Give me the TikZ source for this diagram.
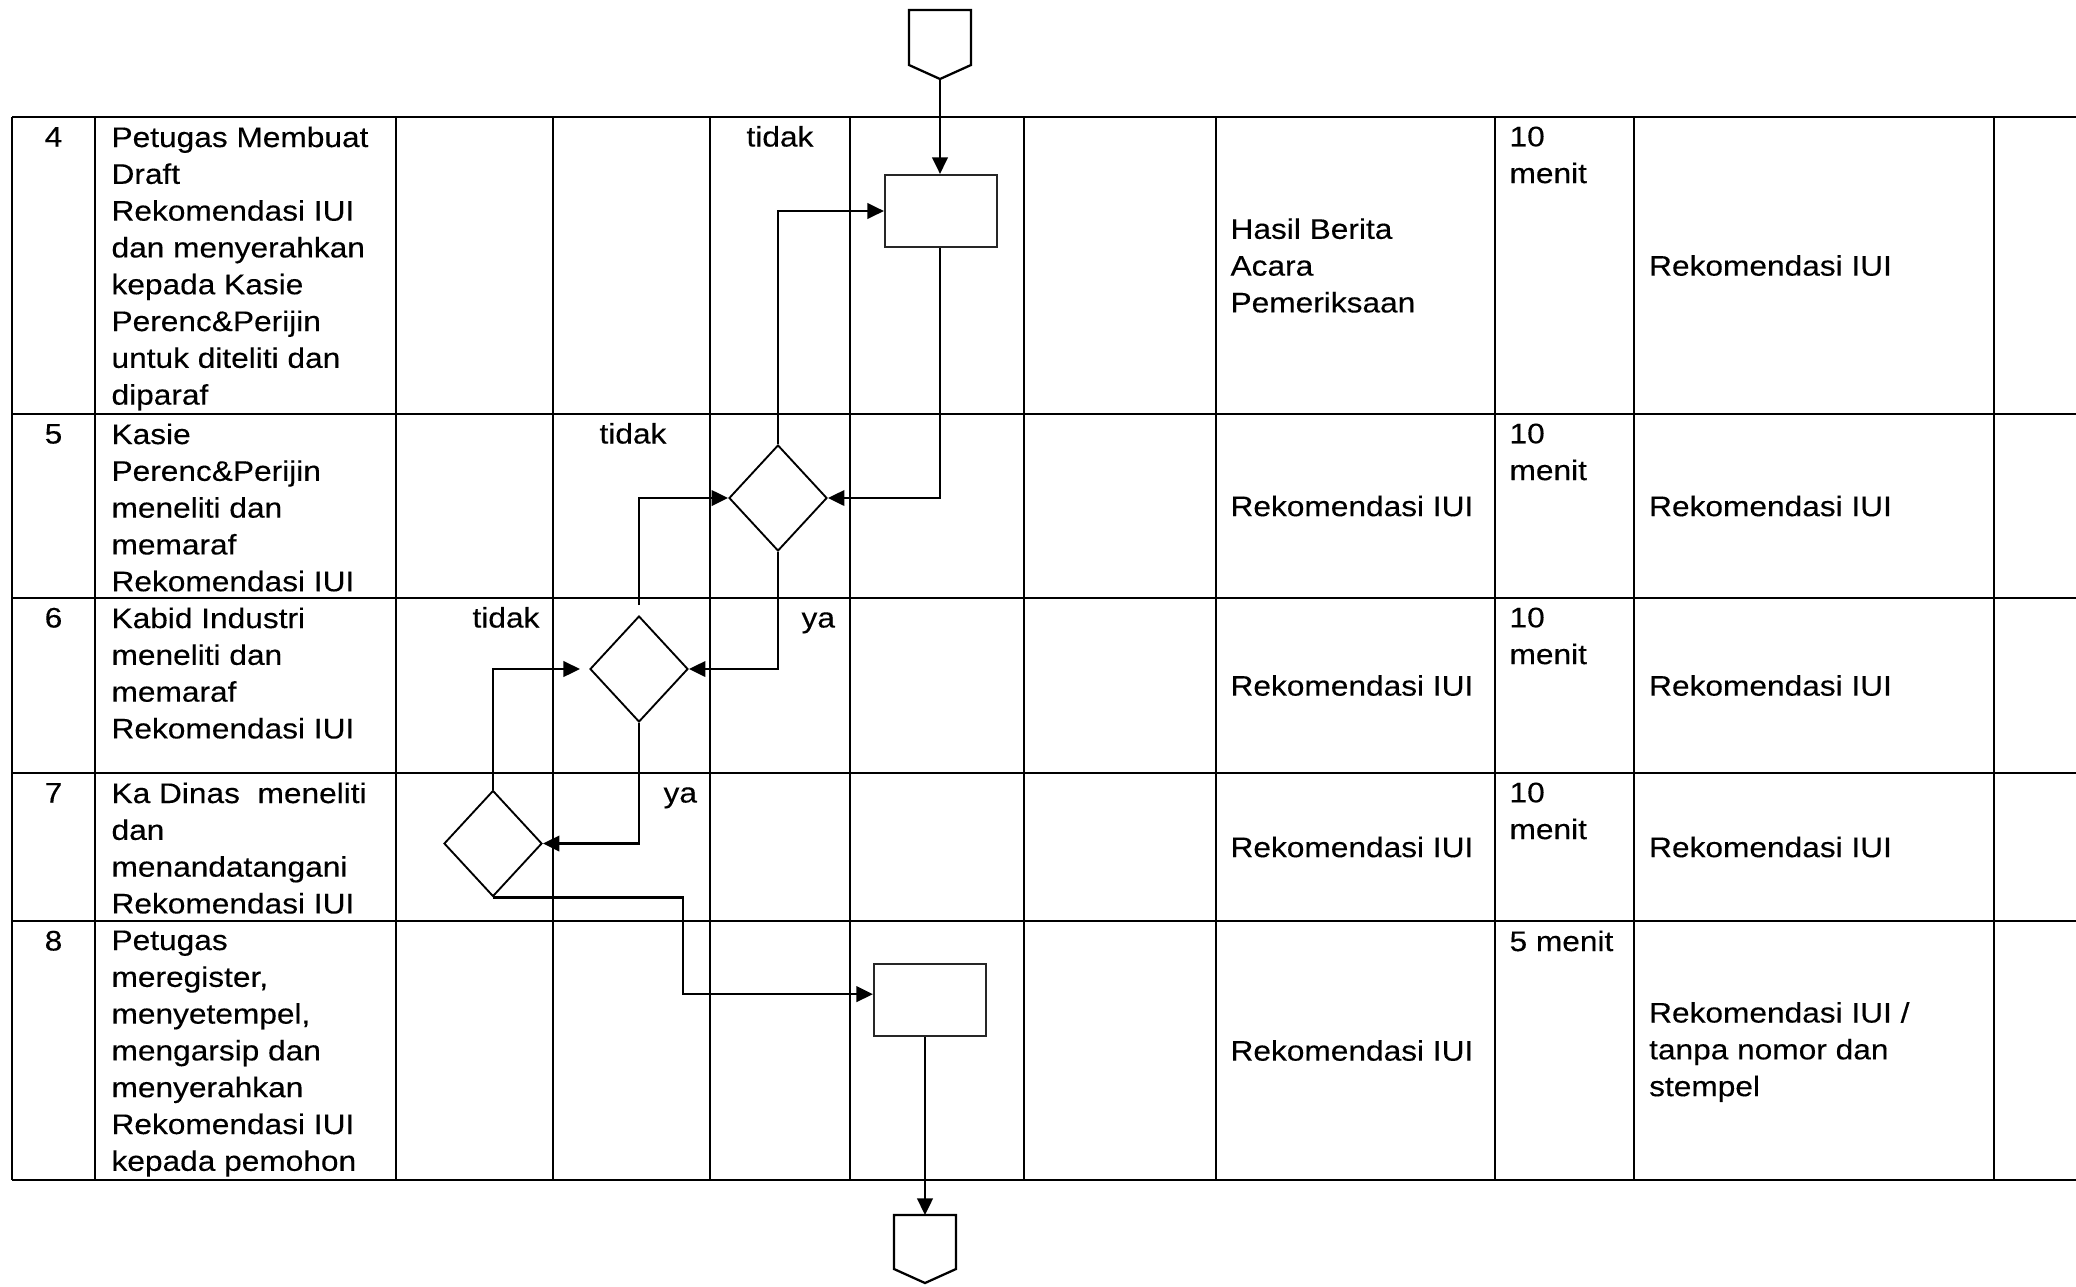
\documentclass[tikz,border=0pt]{standalone}
\usepackage{fontspec}
\setmainfont{Liberation Sans}[FakeStretch=1.12,FakeBold=0.25]
\usepackage{tikz}
\usetikzlibrary{shapes.geometric,arrows.meta}

\tikzset{
  txt/.style={inner sep=0pt, font=\fontsize{10.6}{13.8}\selectfont},
  cell/.style={txt, anchor=north west, align=left},
  mid/.style={txt, anchor=west, align=left},
  lbl/.style={txt, anchor=base west},
  num/.style={txt, anchor=base},
  grid/.style={line width=1.05pt},
  box/.style={draw=black!85, line width=0.8pt, minimum width=42pt, minimum height=27pt, inner sep=0pt},
  decision/.style={draw, diamond, line width=0.7pt, minimum width=36.75pt, minimum height=39.75pt, inner sep=0pt},
  offpage/.style={line width=0.85pt, line join=miter},
  flow/.style={line width=0.95pt, -{Triangle[length=6.2pt,width=5.8pt]}},
}

\begin{document}
\begin{tikzpicture}[x=0.375pt,y=-0.375pt]
\useasboundingbox (0,0) rectangle (2076,1286);

\draw [grid] (12,117)--(2076,117);
\draw [grid] (12,414)--(2076,414);
\draw [grid] (12,598)--(2076,598);
\draw [grid] (12,773)--(2076,773);
\draw [grid] (12,921)--(2076,921);
\draw [grid] (12,1180)--(2076,1180);
\draw [grid] (12,117)--(12,1180);
\draw [grid] (95,117)--(95,1180);
\draw [grid] (396,117)--(396,1180);
\draw [grid] (553,117)--(553,1180);
\draw [grid] (710,117)--(710,1180);
\draw [grid] (850,117)--(850,1180);
\draw [grid] (1024,117)--(1024,1180);
\draw [grid] (1216,117)--(1216,1180);
\draw [grid] (1495,117)--(1495,1180);
\draw [grid] (1634,117)--(1634,1180);
\draw [grid] (1994,117)--(1994,1180);

\node [num] (no4) at (53.5,146.5) {4};
\node [num] (no5) at (53.5,443.5) {5};
\node [num] (no6) at (53.5,627.5) {6};
\node [num] (no7) at (53.5,802.5) {7};
\node [num] (no8) at (53.5,950.5) {8};

\node [cell] (act4) at (111,126) {Petugas Membuat\\Draft\\Rekomendasi IUI\\dan menyerahkan\\kepada Kasie\\Perenc\&Perijin\\untuk diteliti dan\\diparaf};
\node [cell] (act5) at (111,423) {Kasie\\Perenc\&Perijin\\meneliti dan\\memaraf\\Rekomendasi IUI};
\node [cell] (act6) at (111,607) {Kabid Industri\\meneliti dan\\memaraf\\Rekomendasi IUI};
\node [cell] (act7) at (111,782) {Ka Dinas\ \ meneliti\\dan\\menandatangani\\Rekomendasi IUI};
\node [cell] (act8) at (111,930) {Petugas\\meregister,\\menyetempel,\\mengarsip dan\\menyerahkan\\Rekomendasi IUI\\kepada pemohon};

\node [mid] (in4) at (1230,265.5) {Hasil Berita\\Acara\\Pemeriksaan};
\node [mid] (in5) at (1230,506) {Rekomendasi IUI};
\node [mid] (in6) at (1230,685.5) {Rekomendasi IUI};
\node [mid] (in7) at (1230,847) {Rekomendasi IUI};
\node [mid] (in8) at (1230,1050.5) {Rekomendasi IUI};

\node [cell] (time4) at (1509,126) {10\\menit};
\node [cell] (time5) at (1509,423) {10\\menit};
\node [cell] (time6) at (1509,607) {10\\menit};
\node [cell] (time7) at (1509,782) {10\\menit};
\node [cell] (time8) at (1509,930) {5 menit};

\node [mid] (out4) at (1648.6,265.5) {Rekomendasi IUI};
\node [mid] (out5) at (1648.6,506) {Rekomendasi IUI};
\node [mid] (out6) at (1648.6,685.5) {Rekomendasi IUI};
\node [mid] (out7) at (1648.6,847) {Rekomendasi IUI};
\node [mid] (out8) at (1648.6,1052) {Rekomendasi IUI /\\tanpa nomor dan\\stempel};

\node [lbl] (no1) at (746,146.5) {tidak};
\node [lbl] (no2) at (599,443.5) {tidak};
\node [lbl] (no3) at (472,627.5) {tidak};
\node [lbl] (yes2) at (801,627.5) {ya};
\node [lbl] (yes3) at (663,802.5) {ya};

\draw [offpage] (909,10)--(971,10)--(971,65)--(940,79)--(909,65)--cycle;
\coordinate (start) at (940,79);
\draw [offpage] (894,1215)--(956,1215)--(956,1269)--(925,1283)--(894,1269)--cycle;
\coordinate (finish) at (925,1215);

\node [box] (draft) at (941,211) {};
\node [decision] (kasie) at (778,498) {};
\node [decision] (kabid) at (639,669) {};
\node [decision] (kadin) at (493,843.5) {};
\node [box] (arsip) at (930,1000) {};
\coordinate (jog) at (683,950);

\draw [flow] (start)--(start |- draft.north);
\draw [flow] (draft.south -| start) |- (kasie.east);
\draw [flow] (kasie.north) |- (draft.west);
\draw [flow] (kasie.south) |- (kabid.east);
\draw [flow, shorten <=3.75pt] (kabid.north) |- (kasie.west);
\draw [flow] (kabid.south) |- (kadin.east);
\draw [flow, shorten >=3.4pt] (kadin.north) |- (kabid.west);
\draw [flow] (kadin.south) -| (jog) |- ([yshift=2.2pt]arsip.west);
\draw [flow] (arsip.south -| finish)--(finish);
\end{tikzpicture}
\end{document}
